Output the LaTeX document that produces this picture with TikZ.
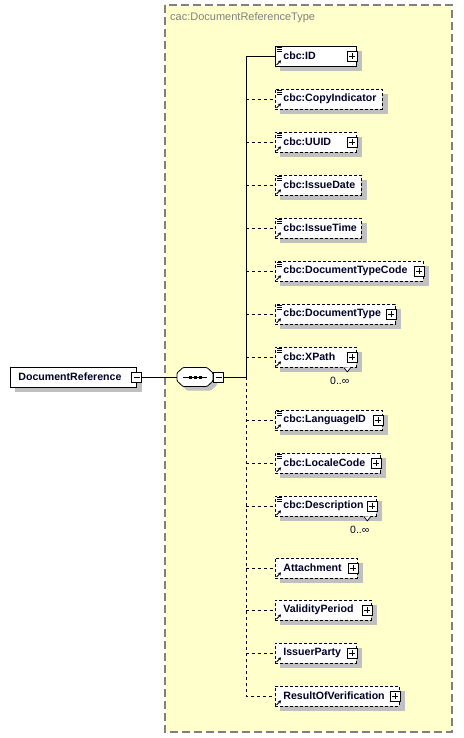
\documentclass[tikz,border=0pt]{standalone}
\usepackage{fontspec}
\setmainfont{Liberation Sans}
\usepackage{xcolor}
\usepackage{tikz}
\usetikzlibrary{positioning,arrows.meta}
\definecolor{typeyellow}{RGB}{255,255,204}
\definecolor{typegray}{RGB}{128,128,128}
\definecolor{shadowgray}{RGB}{192,192,192}
\definecolor{labelnavy}{RGB}{0,0,40}
\pgfdeclarelayer{back}
\pgfdeclarelayer{shade}
\pgfsetlayers{back,shade,main}

% small marks in the corners of the element boxes
\newcommand{\docmark}[1]{%
  \foreach \dy in {2,4,6}
    \draw[line width=0.6pt] ([xshift=1.5pt,yshift=-\dy pt]#1.north west) -- ++(5,0);}
\newcommand{\refmark}[1]{%
  \draw[line width=0.9pt,-{Stealth[length=3pt,width=3.5pt]}]
    ([xshift=1.5pt,yshift=1.5pt]#1.south west) -- ++(4.5,-4.5);}

\begin{document}
\begin{tikzpicture}[x=1pt,y=-1pt,
    box/.style={draw,fill=white,line width=0.8pt,minimum height=20pt,
      inner xsep=8pt,inner ysep=0pt,align=left,anchor=west,text=labelnavy,
      font=\fontsize{10.6}{12}\selectfont\bfseries},
    elem/.style={box,text width={#1-16pt}},
    opt/.style={elem=#1,dash pattern=on 3pt off 2pt},
    pm/.style={draw,fill=white,line width=0.7pt,minimum size=10pt,inner sep=0pt},
    plus/.style={pm,path picture={
      \draw[line width=0.8pt] ([xshift=2pt]path picture bounding box.west) -- ([xshift=-2pt]path picture bounding box.east);
      \draw[line width=0.8pt] ([yshift=-2pt]path picture bounding box.north) -- ([yshift=2pt]path picture bounding box.south);}},
    minus/.style={pm,path picture={
      \draw[line width=0.8pt] ([xshift=2pt]path picture bounding box.west) -- ([xshift=-2pt]path picture bounding box.east);}},
    link/.style={line width=0.8pt},
    optlink/.style={line width=0.8pt,dash pattern=on 3pt off 3pt},
    mult/.style={text=labelnavy,font=\fontsize{10.5}{12}\selectfont}]
  \begin{pgfonlayer}{back}
    \fill[white] (0,0) rectangle (463,738);
    % complex type frame
    \draw[fill=typeyellow,draw=typegray,line width=1.2pt,dash pattern=on 8pt off 4pt] (165,5) rectangle (452,732);
  \end{pgfonlayer}
  \useasboundingbox (0,0) rectangle (463,738);
  \node[anchor=base west,text=typegray,font=\fontsize{11}{12}\selectfont,inner sep=0pt] (typename) at (170,21) {cac:DocumentReferenceType};
  % root element
  \node[elem=126] (docref) at (10,377) {DocumentReference};
  \node[minus] (docrefpm) at (docref.east) {};
  % sequence
  \node[minimum width=36pt,minimum height=19pt,inner sep=0pt] (seq) at (195,377) {};
  \fill[shadowgray,rounded corners=1pt,xshift=4pt,yshift=-4pt]
    (183,367.5) -- (207,367.5) -- (213,373) -- (213,381) -- (207,386.5) -- (183,386.5) -- (177,381) -- (177,373) -- cycle;
  \draw[fill=white,line width=0.8pt,rounded corners=1pt]
    (183,367.5) -- (207,367.5) -- (213,373) -- (213,381) -- (207,386.5) -- (183,386.5) -- (177,381) -- (177,373) -- cycle;
  \draw[line width=0.9pt] ([xshift=-12pt]seq.center) -- ([xshift=12pt]seq.center);
  \foreach \dx in {-5,0,5}
    \fill ([xshift=\dx pt]seq.center) +(-1.5,-1.5) rectangle +(1.5,1.5);
  \node[minus,anchor=west] (seqpm) at (seq.east) {};
  \coordinate (bar) at (246,377);
  % children
  \node[elem=81] (id) at (275,56) {cbc:ID};
  \node[plus,left=-1pt of id.east] (idpm) {};
  \node[opt=107] (copyind) at (275,99) {cbc:CopyIndicator};
  \node[opt=81] (uuid) at (275,142) {cbc:UUID};
  \node[plus,left=-1pt of uuid.east] (uuidpm) {};
  \node[opt=86] (issuedate) at (275,185) {cbc:IssueDate};
  \node[opt=86] (issuetime) at (275,228) {cbc:IssueTime};
  \node[opt=148] (doctypecode) at (275,271) {cbc:DocumentTypeCode};
  \node[plus,left=-1pt of doctypecode.east] (doctypecodepm) {};
  \node[opt=120] (doctype) at (275,314) {cbc:DocumentType};
  \node[plus,left=-1pt of doctype.east] (doctypepm) {};
  \node[opt=81] (xpath) at (275,357) {cbc:XPath};
  \node[plus,left=-1pt of xpath.east] (xpathpm) {};
  \node[opt=107] (langid) at (275,420) {cbc:LanguageID};
  \node[plus,left=-1pt of langid.east] (langidpm) {};
  \node[opt=105] (localecode) at (275,463) {cbc:LocaleCode};
  \node[plus,left=-1pt of localecode.east] (localecodepm) {};
  \node[opt=101] (descr) at (275,506) {cbc:Description};
  \node[plus,left=-1pt of descr.east] (descrpm) {};
  \node[opt=82] (attach) at (275,568) {Attachment};
  \node[plus,left=-1pt of attach.east] (attachpm) {};
  \node[opt=96] (validity) at (275,610) {ValidityPeriod};
  \node[plus,left=-1pt of validity.east] (validitypm) {};
  \node[opt=81] (issuer) at (275,653) {IssuerParty};
  \node[plus,left=-1pt of issuer.east] (issuerpm) {};
  \node[opt=124] (result) at (275,696) {ResultOfVerification};
  \node[plus,left=-1pt of result.east] (resultpm) {};
  % box shadows
  \begin{pgfonlayer}{shade}
    \foreach \n in {docref,id,copyind,uuid,issuedate,issuetime,doctypecode,doctype,xpath,
        langid,localecode,descr,attach,validity,issuer,result}
      \fill[shadowgray] ([xshift=5pt,yshift=-5pt]\n.north west) rectangle ([xshift=5pt,yshift=-5pt]\n.south east);
  \end{pgfonlayer}
  % corner marks
  \docmark{id} \docmark{copyind} \docmark{uuid} \docmark{issuedate} \docmark{issuetime}
  \docmark{doctypecode} \docmark{doctype} \docmark{xpath} \docmark{langid}
  \docmark{localecode} \docmark{descr}
  \refmark{id} \refmark{copyind} \refmark{uuid} \refmark{issuedate} \refmark{issuetime}
  \refmark{doctypecode} \refmark{doctype} \refmark{xpath} \refmark{langid}
  \refmark{localecode} \refmark{descr} \refmark{attach} \refmark{validity}
  \refmark{issuer} \refmark{result}
  % repeating elements
  \filldraw[fill=white,line width=0.7pt] ([xshift=-13pt]xpath.south east) -- ++(3.5,4.5) -- ++(3.5,-4.5);
  \node[mult] (xpathmult) at ([xshift=-17pt,yshift=-13pt]xpath.south east) {0..∞};
  \filldraw[fill=white,line width=0.7pt] ([xshift=-13pt]descr.south east) -- ++(3.5,4.5) -- ++(3.5,-4.5);
  \node[mult] (descrmult) at ([xshift=-17pt,yshift=-13pt]descr.south east) {0..∞};
  % connectors
  \draw[link] (docrefpm.east) -- (seq.west);
  \draw[link] (seqpm.east) -- (bar);
  \draw[link] (bar) -- (bar |- id.west) -- (id.west);
  \draw[optlink] (bar) -- (bar |- result.west) -- (result.west);
  \draw[optlink] (bar |- copyind.west) -- (copyind.west);
  \draw[optlink] (bar |- uuid.west) -- (uuid.west);
  \draw[optlink] (bar |- issuedate.west) -- (issuedate.west);
  \draw[optlink] (bar |- issuetime.west) -- (issuetime.west);
  \draw[optlink] (bar |- doctypecode.west) -- (doctypecode.west);
  \draw[optlink] (bar |- doctype.west) -- (doctype.west);
  \draw[optlink] (bar |- xpath.west) -- (xpath.west);
  \draw[optlink] (bar |- langid.west) -- (langid.west);
  \draw[optlink] (bar |- localecode.west) -- (localecode.west);
  \draw[optlink] (bar |- descr.west) -- (descr.west);
  \draw[optlink] (bar |- attach.west) -- (attach.west);
  \draw[optlink] (bar |- validity.west) -- (validity.west);
  \draw[optlink] (bar |- issuer.west) -- (issuer.west);
\end{tikzpicture}
\end{document}
